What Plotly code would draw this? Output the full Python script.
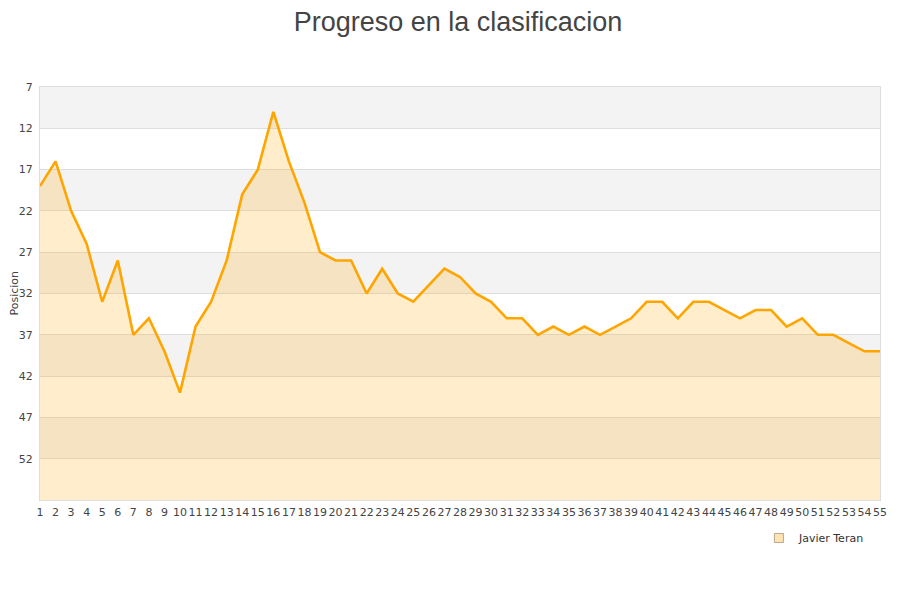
import plotly.graph_objects as go

rounds = list(range(1, 56))
positions = [19, 16, 22, 26, 33, 28, 37, 35, 39, 44,
             36, 33, 28, 20, 17, 10, 16, 21, 27, 28,
             28, 32, 29, 32, 33, 31, 29, 30, 32, 33,
             35, 35, 37, 36, 37, 36, 37, 36, 35, 33,
             33, 35, 33, 33, 34, 35, 34, 34, 36, 35,
             37, 37, 38, 39, 39]
y_ticks = [7, 12, 17, 22, 27, 32, 37, 42, 47, 52]
y_min, y_max = 7, 57
series_name = "Javier Teran"
y_title = "Posicion"

fig = go.Figure()

# baseline at the bottom of the reversed axis for the area fill
fig.add_trace(go.Scatter(x=rounds, y=[y_max] * len(rounds), mode="lines",
                         line=dict(width=0, color="rgba(0,0,0,0)"),
                         showlegend=False, hoverinfo="skip"))
fig.add_trace(go.Scatter(x=rounds, y=positions, mode="lines", name=series_name,
                         line=dict(color="#FFA500", width=2.6),
                         fill="tonexty", fillcolor="rgba(255,165,0,0.2)",
                         showlegend=False))
# legend entry
fig.add_trace(go.Scatter(x=[None], y=[None], mode="markers", name=series_name,
                         marker=dict(symbol="square", size=9,
                                     color="rgba(255,220,160,0.8)",
                                     line=dict(color="#b8a98c", width=1))))

shapes = []
for i, t in enumerate(y_ticks):
    if i % 2 == 0:
        shapes.append(dict(type="rect", xref="paper", yref="y", x0=0, x1=1,
                           y0=t, y1=t + 5, fillcolor="#f3f3f3",
                           line=dict(width=0), layer="below"))

fig.update_layout(
    width=900, height=600,
    paper_bgcolor="white", plot_bgcolor="white",
    margin=dict(l=32, r=28, t=79, b=108, autoexpand=False),
    title=dict(text="Progreso en la clasificacion", x=0.5, xanchor="center",
               yref="container", y=0.978, yanchor="middle",
               font=dict(family="Liberation Sans, Arial, sans-serif", size=27, color="#444444")),
    shapes=shapes,
    showlegend=True,
    legend=dict(x=0.988, xanchor="right", y=-0.092, yanchor="middle",
                itemwidth=30,
                font=dict(family="DejaVu Sans", size=11, color="#333333"),
                bgcolor="rgba(0,0,0,0)"),
    font=dict(family="DejaVu Sans", size=11, color="#444444"),
    annotations=[dict(text=y_title, textangle=-90, xref="paper", yref="paper",
                      x=0, y=0.5, xanchor="center", yanchor="middle", xshift=-26,
                      showarrow=False,
                      font=dict(family="DejaVu Sans", size=11, color="#444444"))],
)
fig.update_xaxes(range=[1, 55], tickmode="array", tickvals=rounds,
                 ticktext=[str(r) for r in rounds], tickangle=0, automargin=False,
                 showgrid=False, zeroline=False, ticklabelstandoff=2,
                 showline=True, linecolor="#dddddd", linewidth=1, mirror=True,
                 tickfont=dict(family="DejaVu Sans", size=11, color="#444444"),
                 ticks="", ticklen=0)
fig.update_yaxes(range=[y_max, y_min], tickmode="array", tickvals=y_ticks,
                 automargin=False, ticklabelstandoff=4,
                 showgrid=True, gridcolor="#dedede", gridwidth=1, zeroline=False,
                 showline=True, linecolor="#dddddd", linewidth=1, mirror=True,
                 tickfont=dict(family="DejaVu Sans", size=11, color="#444444"),
                 ticks="", ticklen=0)

fig.write_html("out.html")
